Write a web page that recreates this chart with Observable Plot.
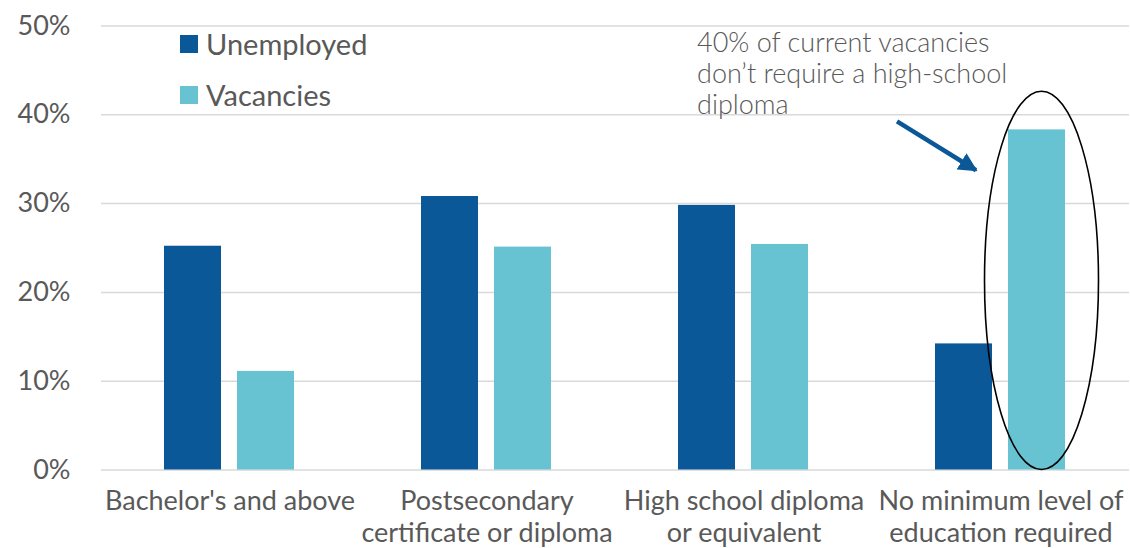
<!DOCTYPE html>
<html>
<head>
<meta charset="utf-8">
<script src="https://cdn.jsdelivr.net/npm/d3@7"></script>
<script src="https://cdn.jsdelivr.net/npm/@observablehq/plot@0.6"></script>
<style>
  html, body { margin: 0; padding: 0; background: white; }
  #wrap { position: relative; width: 1130px; height: 548px; font-family: Lato, sans-serif; color: #595959; }
  .legend { position: absolute; left: 180px; top: 18px; font-size: 29px; line-height: 51px; }
  .legend .item { display: flex; align-items: center; }
  .legend .sw { width: 18px; height: 18px; margin-right: 8px; }
</style>
</head>
<body>
<div id="wrap"></div>
<script>
const categories = ["Bachelor's and above", "Postsecondary certificate or diploma", "High school diploma or equivalent", "No minimum level of education required"];
const categoryLabels = ["Bachelor's and above", "Postsecondary\ncertificate or diploma", "High school diploma\nor equivalent", "No minimum level of\neducation required"];
const series = ["Unemployed", "Vacancies"];
const seriesColors = ["#0b5899", "#67c3d2"];
const unemployed = [25.2, 30.8, 29.8, 14.2];
const vacancies = [11.1, 25.1, 25.4, 38.3];
const yTicks = [0, 10, 20, 30, 40, 50];
const annotationLines = ["40% of current vacancies", "don\u2019t require a high-school", "diploma"];

const data = [];
categories.forEach((c, i) => {
  data.push({category: c, series: series[0], value: unemployed[i]});
  data.push({category: c, series: series[1], value: vacancies[i]});
});
const labelOf = new Map(categories.map((c, i) => [c, categoryLabels[i]]));

const plot = Plot.plot({
  width: 1130,
  height: 548,
  marginLeft: 100,
  marginRight: 0,
  marginTop: 25.5,
  marginBottom: 78.5,
  style: {fontFamily: "Lato, sans-serif", fontSize: "27px", color: "#595959", background: "white", overflow: "visible"},
  fx: {domain: categories, padding: 0, label: null, axis: null},
  x: {domain: series, paddingInner: 0.2177, paddingOuter: 0.86, axis: null},
  y: {domain: [0, 50], label: null, axis: null},
  color: {domain: series, range: seriesColors},
  marks: [
    Plot.gridY(yTicks, {stroke: "#d9d9d9", strokeOpacity: 1, strokeWidth: 1.5}),
    Plot.barY(data, {fx: "category", x: "series", y: "value", fill: "series"}),
    Plot.axisY(yTicks, {tickSize: 0, tickPadding: 31, tickFormat: d => d + "%", label: null, fontSize: 27, fill: "#595959"}),
    Plot.axisFx({anchor: "bottom", tickSize: 0, tickPadding: 18, tickFormat: d => labelOf.get(d), label: null, fontSize: 27, lineHeight: 1.17, fill: "#595959"})
  ]
});

const wrap = document.getElementById("wrap");
wrap.appendChild(plot);

// Legend (HTML)
const legend = document.createElement("div");
legend.className = "legend";
series.forEach((s, i) => {
  const item = document.createElement("div");
  item.className = "item";
  const sw = document.createElement("span");
  sw.className = "sw";
  sw.style.background = seriesColors[i];
  const t = document.createElement("span");
  t.textContent = s;
  item.appendChild(sw); item.appendChild(t);
  legend.appendChild(item);
});
wrap.appendChild(legend);

// Annotations positioned from the rendered scales / bars
const y = plot.scale("y");
const svg = d3.select(plot);
const svgRect = plot.getBoundingClientRect();
const rects = plot.querySelectorAll("g[aria-label='bar'] rect");
function rectBox(el) {
  const r = el.getBoundingClientRect();
  return {x: r.left - svgRect.left, w: r.width};
}
const lastIdx = categories.length - 1;
const unemRect = rectBox(rects[lastIdx * 2]);
const vacRect = rectBox(rects[lastIdx * 2 + 1]);

// Ellipse around the vacancies bar
const topVal = 42.6;
const cy = (y.apply(topVal) + y.apply(0)) / 2;
const ry = (y.apply(0) - y.apply(topVal)) / 2;
svg.append("ellipse")
  .attr("cx", vacRect.x + vacRect.w / 2 + 5)
  .attr("cy", cy)
  .attr("rx", vacRect.w)
  .attr("ry", ry)
  .attr("fill", "none")
  .attr("stroke", "black")
  .attr("stroke-width", 1.6);

// Arrow
const defs = svg.append("defs");
defs.append("marker")
  .attr("id", "ah")
  .attr("viewBox", "0 0 10 10")
  .attr("refX", 9).attr("refY", 5)
  .attr("markerWidth", 4.2).attr("markerHeight", 4.2)
  .attr("markerUnits", "strokeWidth")
  .attr("orient", "auto")
  .append("path").attr("d", "M0,0L10,5L0,10Z").attr("fill", "#0b5899");
svg.append("line")
  .attr("x1", unemRect.x - 38).attr("y1", y.apply(39.2))
  .attr("x2", unemRect.x + 41).attr("y2", y.apply(33.7))
  .attr("stroke", "#0b5899")
  .attr("stroke-width", 4.5)
  .attr("marker-end", "url(#ah)");

// Annotation text
const tx = unemRect.x - 238;
const txt = svg.append("text")
  .attr("x", tx)
  .attr("y", y.apply(47.0))
  .attr("text-anchor", "start")
  .attr("fill", "#595959")
  .attr("font-size", 27)
  .attr("font-weight", 300)
  .attr("font-family", "Lato, sans-serif");
annotationLines.forEach((l, i) => {
  txt.append("tspan").attr("x", tx).attr("dy", i === 0 ? 0 : 31).text(l);
});
</script>
</body>
</html>
